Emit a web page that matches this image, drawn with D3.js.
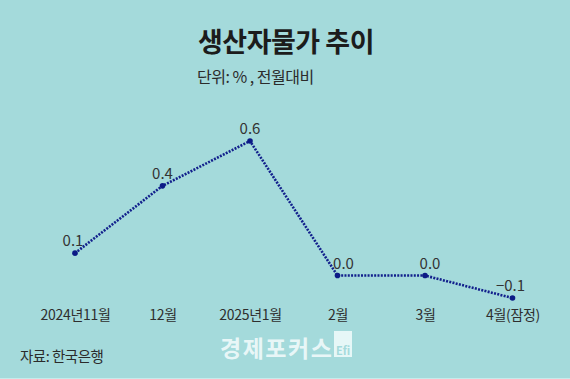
<!DOCTYPE html>
<html>
<head>
<meta charset="utf-8">
<script src="https://cdn.jsdelivr.net/npm/d3@7"></script>
<style>
    body { margin: 0; background: #a4dadb; }
    text { font-family: "Noto Sans CJK KR", "Noto Sans", sans-serif; }
</style>
</head>
<body>
<div id="chart-area"></div>
<script>
// 데이터
var months = ["2024년11월", "12월", "2025년1월", "2월", "3월", "4월(잠정)"];
var values = [0.1, 0.4, 0.6, 0.0, 0.0, -0.1];
var yDomain = [-0.1, 0.6];

// 라벨 위치 보정 (선과 겹치지 않게)
var labelDx = [-2, 0, 0, 6, 5, -2];

var width = 570;
var height = 379;

var svg = d3.select("#chart-area")
    .append("svg")
        .attr("width", width)
        .attr("height", height);

svg.append("rect")
    .attr("width", width)
    .attr("height", height)
    .attr("fill", "#a4dadb");

svg.append("rect")
    .attr("y", height - 1)
    .attr("width", width)
    .attr("height", 1)
    .attr("fill", "#c6ebeb");

// 제목
svg.append("text")
    .attr("x", 286)
    .attr("y", 52)
    .attr("text-anchor", "middle")
    .attr("font-size", "27px")
    .attr("font-weight", "bold")
    .attr("fill", "#1c1c1c")
    .attr("letter-spacing", "-0.5px")
    .text("생산자물가 추이");

svg.append("text")
    .attr("x", 197)
    .attr("y", 83)
    .attr("font-size", "16px")
    .attr("fill", "#2b2b2b")
    .attr("letter-spacing", "-0.5px")
    .text("단위: % , 전월대비");

// X Scale
var x = d3.scalePoint()
    .domain(months)
    .range([75, 512.5]);

// Y Scale
var y = d3.scaleLinear()
    .domain(yDomain)
    .range([298, 141]);

var data = months.map(function(m, i) {
    return { month: m, value: values[i], dx: labelDx[i] };
});

// X 축
var xAxisGroup = svg.append("g")
    .attr("transform", "translate(0, 306)")
    .call(d3.axisBottom(x).tickSize(0).tickPadding(0));
xAxisGroup.select(".domain").remove();
xAxisGroup.selectAll("text")
    .attr("dy", "0")
    .attr("y", 14)
    .attr("font-size", "14px")
    .attr("fill", "#2e2e2e")
    .attr("letter-spacing", "-0.3px");

// 선
var line = d3.line()
    .x(function(d) { return x(d.month); })
    .y(function(d) { return y(d.value); });

svg.append("path")
    .datum(data)
    .attr("d", line)
    .attr("fill", "none")
    .attr("stroke", "#12208c")
    .attr("stroke-width", 2.6)
    .attr("stroke-dasharray", "2,1.3");

svg.selectAll("circle")
    .data(data)
    .enter()
    .append("circle")
        .attr("cx", function(d) { return x(d.month); })
        .attr("cy", function(d) { return y(d.value); })
        .attr("r", 2.8)
        .attr("fill", "#0b1a86");

// 값 라벨
svg.selectAll(".value-label")
    .data(data)
    .enter()
    .append("text")
        .attr("class", "value-label")
        .attr("x", function(d) { return x(d.month) + d.dx; })
        .attr("y", function(d) { return y(d.value) - 7; })
        .attr("text-anchor", "middle")
        .attr("font-size", "15px")
        .attr("fill", "#333")
        .text(function(d) { return d3.format(".1f")(d.value); });

// 출처
svg.append("text")
    .attr("x", 20)
    .attr("y", 362)
    .attr("font-size", "14.5px")
    .attr("fill", "#2b2b2b")
    .attr("letter-spacing", "-0.5px")
    .text("자료: 한국은행");

// 워터마크
svg.append("text")
    .attr("x", 220)
    .attr("y", 357)
    .attr("font-size", "23px")
    .attr("font-weight", "bold")
    .attr("fill", "#f2fbfb")
    .attr("fill-opacity", 0.9)
    .attr("letter-spacing", "1.5px")
    .text("경제포커스");

svg.append("rect")
    .attr("x", 334)
    .attr("y", 331)
    .attr("width", 18)
    .attr("height", 26)
    .attr("fill", "#f2fbfb")
    .attr("fill-opacity", 0.85);

svg.append("text")
    .attr("x", 343)
    .attr("y", 355)
    .attr("text-anchor", "middle")
    .attr("font-size", "11px")
    .attr("font-weight", "bold")
    .attr("fill", "#a4dadb")
    .text("Efi");
</script>
</body>
</html>
